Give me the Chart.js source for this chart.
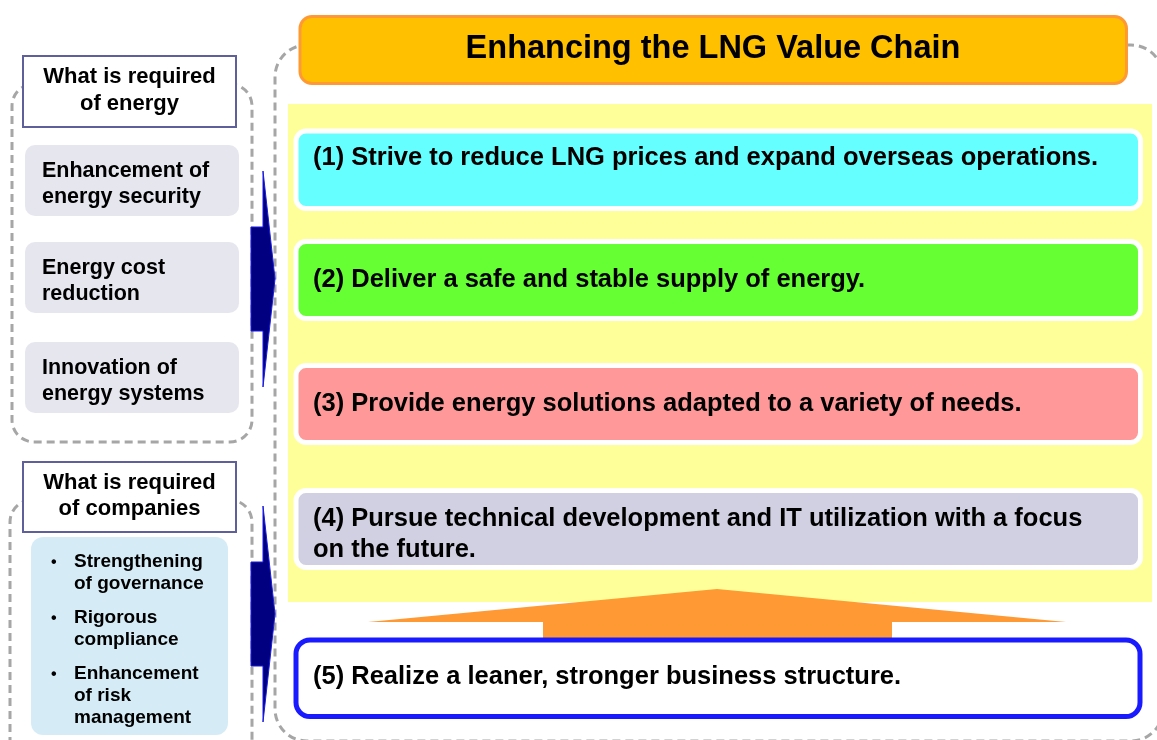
<!DOCTYPE html>
<html>
<head>
<meta charset="utf-8">
<script src="https://cdn.jsdelivr.net/npm/chart.js@4.4.0/dist/chart.umd.min.js"></script>
<style>
  html, body { margin: 0; padding: 0; background: #fff; overflow: hidden; }
  canvas { display: block; }
</style>
</head>
<body>
<canvas id="diagram" width="1157" height="740"></canvas>
<script>
// ---- content (text only) ----
const HEADER        = 'Enhancing the LNG Value Chain';
const ENERGY_TITLE  = ['What is required', 'of energy'];
const ENERGY_ITEMS  = [
  ['Enhancement of', 'energy security'],
  ['Energy cost', 'reduction'],
  ['Innovation of', 'energy systems']
];
const COMPANY_TITLE = ['What is required', 'of companies'];
const COMPANY_ITEMS = [
  ['Strengthening', 'of governance'],
  ['Rigorous', 'compliance'],
  ['Enhancement', 'of risk', 'management']
];
const CHAIN_ITEMS = [
  ['(1) Strive to reduce LNG prices and expand overseas operations.'],
  ['(2) Deliver a safe and stable supply of energy.'],
  ['(3) Provide energy solutions adapted to a variety of needs.'],
  ['(4) Pursue technical development and IT utilization with a focus', 'on the future.']
];
const BASE_ITEM = '(5) Realize a leaner, stronger business structure.';

// ---- layout (scale units, y grows downward) ----
const W = 1157, H = 740;
const FONT = '"Liberation Sans", Arial, sans-serif';
const CHAIN_FILL = ['#66ffff', '#66ff33', '#ff9999', '#d0d0e2'];
const CHAIN_TOP  = [131, 241.5, 365.5, 490.5];
const CHAIN_BOT  = [208.5, 318.5, 442.5, 567.5];
const CHAIN_BASE = [165, 287, 411, 526];
const ENERGY_TOP = [145, 242, 342];

// helper: rounded rect path in chart coords
function rr(ctx, sx, sy, x0, y0, x1, y1, r) {
  const a = sx(x0), b = sy(y0), c = sx(x1), d = sy(y1);
  ctx.beginPath();
  ctx.roundRect(a, b, c - a, d - b, r);
}
function poly(ctx, sx, sy, pts) {
  ctx.beginPath();
  pts.forEach(([x, y], i) => i ? ctx.lineTo(sx(x), sy(y)) : ctx.moveTo(sx(x), sy(y)));
  ctx.closePath();
}
function text(ctx, sx, sy, lines, x, y, lh, size, align) {
  ctx.font = `bold ${size}px ${FONT}`;
  ctx.fillStyle = '#000';
  ctx.textAlign = align || 'left';
  ctx.textBaseline = 'alphabetic';
  lines.forEach((l, i) => ctx.fillText(l, sx(x), sy(y + i * lh)));
}
function arrow(ctx, sx, sy, top, shaftTop, shaftBot, bot) {
  const tip = (top + bot) / 2;
  poly(ctx, sx, sy, [[251, shaftTop], [263, shaftTop], [263, top], [275, tip],
                     [263, bot], [263, shaftBot], [251, shaftBot]]);
  ctx.fillStyle = '#000080';
  ctx.fill();
  ctx.strokeStyle = '#1a1ae0';
  ctx.lineWidth = 1;
  ctx.stroke();
}

const diagramPlugin = {
  id: 'diagram',
  afterDraw(chart) {
    const ctx = chart.ctx;
    const sx = v => chart.scales.x.getPixelForValue(v);
    const sy = v => chart.scales.y.getPixelForValue(v);
    ctx.save();

    // dashed frames
    ctx.setLineDash([8, 5]);
    ctx.lineWidth = 3;
    ctx.strokeStyle = '#a6a6a6';
    rr(ctx, sx, sy, 12, 84, 252, 442, 22); ctx.stroke();
    rr(ctx, sx, sy, 10, 500, 252, 770, 22); ctx.stroke();
    rr(ctx, sx, sy, 275, 45, 1163, 741, 32); ctx.stroke();
    ctx.setLineDash([]);

    // left: energy
    ctx.fillStyle = '#fff';
    ctx.fillRect(sx(22), sy(55), sx(237) - sx(22), sy(128) - sy(55));
    ctx.strokeStyle = '#5f5f9a';
    ctx.lineWidth = 2;
    ctx.strokeRect(sx(23), sy(56), sx(236) - sx(23), sy(127) - sy(56));
    text(ctx, sx, sy, ENERGY_TITLE, 129.5, 83, 27, 22, 'center');

    ENERGY_ITEMS.forEach((lines, i) => {
      rr(ctx, sx, sy, 25, ENERGY_TOP[i], 239, ENERGY_TOP[i] + 71, 10);
      ctx.fillStyle = '#e6e6ef';
      ctx.fill();
      text(ctx, sx, sy, lines, 42, ENERGY_TOP[i] + 32, 26, 21.5);
    });

    // left: companies
    ctx.fillStyle = '#fff';
    ctx.fillRect(sx(22), sy(461), sx(237) - sx(22), sy(533) - sy(461));
    ctx.strokeStyle = '#5f5f9a';
    ctx.lineWidth = 2;
    ctx.strokeRect(sx(23), sy(462), sx(236) - sx(23), sy(532) - sy(462));
    text(ctx, sx, sy, COMPANY_TITLE, 129.5, 489, 26, 22, 'center');

    rr(ctx, sx, sy, 31, 537, 228, 735, 12);
    ctx.fillStyle = '#d5ecf7';
    ctx.fill();
    let by = 567;
    COMPANY_ITEMS.forEach(lines => {
      text(ctx, sx, sy, ['•'], 51, by, 0, 16);
      text(ctx, sx, sy, lines, 74, by, 22, 19);
      by += lines.length * 22 + 12;
    });

    // navy arrows
    arrow(ctx, sx, sy, 171, 227, 331, 387);
    arrow(ctx, sx, sy, 506, 562, 666, 722);

    // yellow area
    ctx.fillStyle = '#ffff99';
    ctx.fillRect(sx(288), sy(104), sx(1152) - sx(288), sy(602) - sy(104));

    // header
    rr(ctx, sx, sy, 300, 16.5, 1126.5, 83.5, 12);
    ctx.fillStyle = '#ffc000';
    ctx.fill();
    ctx.strokeStyle = '#ff9933';
    ctx.lineWidth = 3;
    ctx.stroke();
    text(ctx, sx, sy, [HEADER], 713, 58, 0, 32.5, 'center');

    // chain boxes
    CHAIN_ITEMS.forEach((lines, i) => {
      rr(ctx, sx, sy, 296, CHAIN_TOP[i], 1140.5, CHAIN_BOT[i], 10);
      ctx.fillStyle = CHAIN_FILL[i];
      ctx.fill();
      ctx.strokeStyle = '#fff';
      ctx.lineWidth = 5;
      ctx.stroke();
      text(ctx, sx, sy, lines, 313, CHAIN_BASE[i], 31, 25.5);
    });

    // orange up arrow
    poly(ctx, sx, sy, [[368, 622], [717, 589], [1066, 622], [892, 622],
                       [892, 640], [543, 640], [543, 622]]);
    ctx.fillStyle = '#ff9933';
    ctx.fill();

    // base box
    rr(ctx, sx, sy, 296, 640, 1140, 716.5, 14);
    ctx.fillStyle = '#fff';
    ctx.fill();
    ctx.strokeStyle = '#1a1aff';
    ctx.lineWidth = 5;
    ctx.stroke();
    text(ctx, sx, sy, [BASE_ITEM], 313, 684, 0, 25.5);

    ctx.restore();
  }
};

new Chart(document.getElementById('diagram'), {
  type: 'scatter',
  data: { datasets: [] },
  options: {
    responsive: false,
    animation: false,
    events: [],
    layout: { padding: 0 },
    plugins: { legend: { display: false }, tooltip: { enabled: false } },
    scales: {
      x: { type: 'linear', min: 0, max: W, display: false },
      y: { type: 'linear', min: 0, max: H, reverse: true, display: false }
    }
  },
  plugins: [diagramPlugin]
});
</script>
</body>
</html>
